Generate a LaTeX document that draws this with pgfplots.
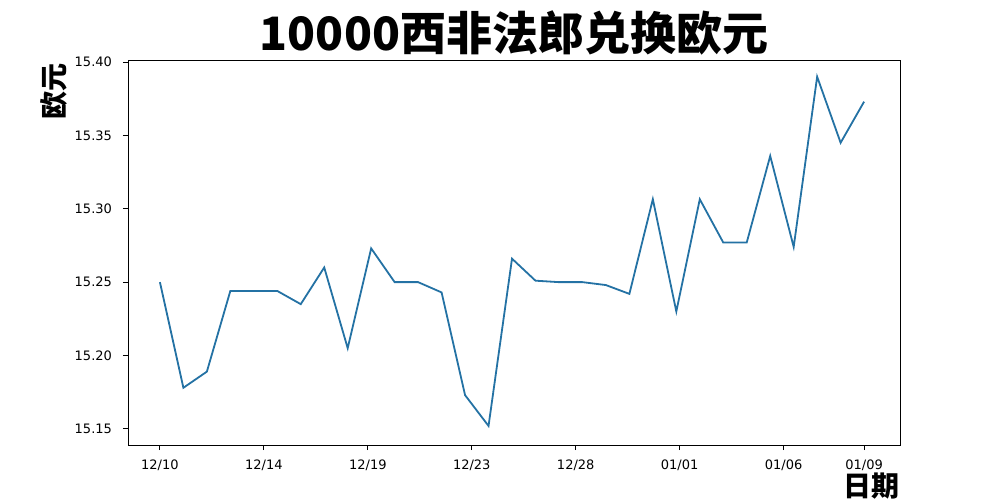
\documentclass[border=0pt]{standalone}
\usepackage{pgfplots}
\pgfplotsset{compat=1.18}
\usepackage{fontspec}
\setmainfont{DejaVu Sans}
\newfontfamily\cjk{Noto Sans CJK SC}
\definecolor{line}{HTML}{2472A4}
\begin{document}
\begin{tikzpicture}
\path[use as bounding box] (0,0) rectangle (500pt,250pt);
\begin{axis}[
  at={(64pt,27.5pt)}, anchor=south west,
  scale only axis, width=386pt, height=192.5pt,
  xmin=-1.36, xmax=31.53,
  ymin=15.139, ymax=15.4014,
  xtick={0,4.4286,8.8571,13.2857,17.7143,22.1429,26.5714,30},
  xticklabels={12/10,12/14,12/19,12/23,12/28,01/01,01/06,01/09},
  ytick={15.15,15.20,15.25,15.30,15.35,15.40},
  yticklabel style={/pgf/number format/fixed,/pgf/number format/fixed zerofill,/pgf/number format/precision=2,/pgf/number format/assume math mode=true, xshift=-2pt},
  tick label style={font=\fontsize{6.5}{7.5}\selectfont},
  tick align=outside, tick pos=left,
  major tick length=2.5pt,
  axis line style={line width=0.5pt},
  every tick/.style={black, line width=0.5pt},
  xticklabel style={yshift=-1.5pt},
]
\addplot[line, line width=0.9pt, mark=none] coordinates {
(0,15.250) (1,15.178) (2,15.189) (3,15.244) (4,15.244) (5,15.244)
(6,15.235) (7,15.260) (8,15.205) (9,15.273) (10,15.250) (11,15.250)
(12,15.243) (13,15.173) (14,15.152) (15,15.266) (16,15.251) (17,15.250)
(18,15.250) (19,15.248) (20,15.242) (21,15.3065) (22,15.230) (23,15.3065)
(24,15.277) (25,15.277) (26,15.336) (27,15.274) (28,15.390) (29,15.345)
(30,15.373)
};
\end{axis}
\node[font=\cjk\bfseries\fontsize{23}{26}\selectfont, inner sep=0] at (257pt,233.5pt) {10000西非法郎兑换欧元};
\node[font=\cjk\bfseries\fontsize{14}{16}\selectfont, inner sep=0, rotate=90, anchor=east] at (27pt,218.5pt) {欧元};
\node[font=\cjk\bfseries\fontsize{14}{16}\selectfont, inner sep=0, anchor=east] at (450pt,7pt) {日期};
\end{tikzpicture}
\end{document}
